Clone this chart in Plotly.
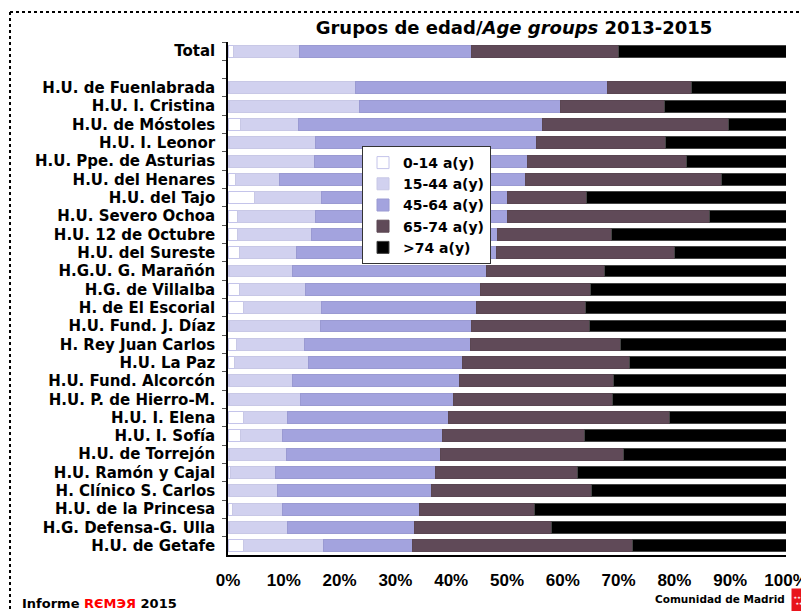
import plotly.graph_objects as go

categories = ["Total", " ",
    "H.U. de Fuenlabrada", "H.U. I. Cristina", "H.U. de Móstoles", "H.U. I. Leonor",
    "H.U. Ppe. de Asturias", "H.U. del Henares", "H.U. del Tajo", "H.U. Severo Ochoa",
    "H.U. 12 de Octubre", "H.U. del Sureste", "H.G.U. G. Marañón", "H.G. de Villalba",
    "H. de El Escorial", "H.U. Fund. J. Díaz", "H. Rey Juan Carlos", "H.U. La Paz",
    "H.U. Fund. Alcorcón", "H.U. P. de Hierro-M.", "H.U. I. Elena", "H.U. I. Sofía",
    "H.U. de Torrejón", "H.U. Ramón y Cajal", "H. Clínico S. Carlos", "H.U. de la Princesa",
    "H.G. Defensa-G. Ulla", "H.U. de Getafe"]

age_0_14 = [0.9, None, 0.2, 0.2, 2.2, 0.2, 0.2, 1.3, 4.8, 1.7, 1.7, 2.0, 0.2, 2.0, 2.7,
            0.2, 1.5, 1.2, 0.2, 0.2, 2.7, 2.2, 0.2, 0.5, 0.2, 0.8, 0.2, 2.7]
age_15_44 = [11.9, None, 22.6, 23.4, 10.5, 15.5, 15.3, 7.9, 12.0, 14.0, 13.2, 10.2, 11.4, 11.8, 14.1,
             16.3, 12.2, 13.3, 11.4, 12.8, 7.9, 7.5, 10.3, 8.1, 8.6, 9.0, 10.4, 14.5]
age_45_64 = [30.8, None, 45.2, 35.9, 43.7, 39.5, 38.2, 44.1, 33.3, 34.4, 33.4, 35.9, 34.7, 31.4, 27.7,
             27.2, 29.7, 27.5, 29.9, 27.5, 28.9, 28.7, 27.5, 28.5, 27.7, 24.5, 22.8, 15.8]
age_65_74 = [26.3, None, 15.1, 18.7, 33.3, 23.2, 28.4, 35.1, 14.2, 36.2, 20.4, 32.0, 21.1, 19.7, 19.6,
             21.1, 26.9, 30.0, 27.6, 28.4, 39.6, 25.5, 32.9, 25.5, 28.6, 20.7, 24.6, 39.5]
age_75p = [30.1, None, 16.9, 21.8, 10.3, 21.6, 17.9, 11.6, 35.7, 13.7, 31.3, 19.9, 32.6, 35.1, 35.9,
           35.2, 29.7, 28.0, 30.9, 31.1, 20.9, 36.1, 29.1, 37.4, 34.9, 45.0, 42.0, 27.5]

series_names = ["0-14 a(y)", "15-44 a(y)", "45-64 a(y)", "65-74 a(y)", ">74 a(y)"]
series_values = [age_0_14, age_15_44, age_45_64, age_65_74, age_75p]
fill_colors = ["#ffffff", "#d1d1ef", "#a3a3de", "#604a58", "#000000"]
line_colors = ["#c4c4ea", "#c8c8e6", "#9a9ad2", "#5a4652", "#444444"]

FONT = "DejaVu Sans, Arial, sans-serif"
FONT_X = "Liberation Sans, Arial, sans-serif"

fig = go.Figure()
for name, vals, fc, lc in zip(series_names, series_values, fill_colors, line_colors):
    fig.add_trace(go.Bar(
        y=categories, x=vals, name=name, orientation="h",
        marker=dict(color=fc, line=dict(color=lc, width=1)),
        hoverinfo="x+y+name",
    ))

# The page body adds an 8px offset; lay out in screen pixels and shift.
OFF = 8
W, H = 809 - OFF, 611 - OFF
PL, PR, PT, PB = 228, 786, 42, 555          # plot area in screen pixels
L, R, T, B = PL - OFF, (809 - PR), PT - OFF, 611 - PB
pw, ph = PR - PL, PB - PT

def px(x):
    return (x - PL) / pw

def py(y):
    return (PB - y) / ph

fig.update_layout(
    width=W, height=H,
    margin=dict(l=L, r=R, t=T, b=B, autoexpand=False),
    paper_bgcolor="white", plot_bgcolor="white",
    barmode="stack", bargap=0.35,
    font=dict(family=FONT, color="black"),
    title=dict(
        text="<b>Grupos de edad/<i>Age groups</i> 2013-2015</b>",
        font=dict(size=18, family=FONT, color="black"),
        x=(514 - OFF) / W, xanchor="center", xref="container",
        y=1 - (28 - OFF) / H, yanchor="middle", yref="container",
    ),
    legend=dict(
        x=px(362), y=py(146), xanchor="left", yanchor="top",
        bgcolor="white", bordercolor="#333333", borderwidth=1,
        font=dict(size=14, family=FONT, color="black", weight="bold"),
        traceorder="normal", itemwidth=30,
    ),
    showlegend=True,
)

fig.update_yaxes(
    categoryorder="array", categoryarray=categories, autorange="reversed",
    showline=True, linecolor="black", linewidth=1.5,
    ticks="outside", ticklen=4, tickcolor="#555555", tickson="boundaries",
    tickfont=dict(size=15, family=FONT, color="black", weight="bold"),
    ticklabelstandoff=8, showgrid=False,
)
fig.update_xaxes(
    range=[0, 100], dtick=10, ticksuffix="%",
    showline=True, linecolor="black", linewidth=1.5,
    ticks="", showgrid=False, zeroline=False,
    tickfont=dict(size=17, family=FONT_X, color="black", weight="bold"),
    ticklabelstandoff=9, ticklabeloverflow="allow",
)

# dotted frame (top and left)
fig.add_shape(type="line", xref="paper", yref="paper",
              x0=px(10), x1=px(809), y0=py(12), y1=py(12),
              line=dict(color="black", width=2, dash="dot"))
fig.add_shape(type="line", xref="paper", yref="paper",
              x0=px(10), x1=px(10), y0=py(12), y1=py(611),
              line=dict(color="black", width=2, dash="dot"))

# footer
fig.add_annotation(
    xref="paper", yref="paper", x=px(20), y=py(603), xanchor="left", yanchor="middle",
    text="<b>Informe <span style='color:#ff0000'>RЄMЭЯ</span> 2015</b>",
    showarrow=False, font=dict(size=13, family=FONT, color="black"))
fig.add_annotation(
    xref="paper", yref="paper", x=px(787), y=py(599), xanchor="right", yanchor="middle",
    text="<b>Comunidad de Madrid</b>",
    showarrow=False, font=dict(size=10.5, family=FONT, color="black"))
fig.add_annotation(
    xref="paper", yref="paper", x=px(791), y=py(588), xanchor="left", yanchor="top",
    text="★★★★<br>★★★", showarrow=False, width=16, height=21,
    bgcolor="#e8141c", borderpad=1,
    font=dict(size=4, family=FONT, color="white"))

fig.write_html("out.html")
